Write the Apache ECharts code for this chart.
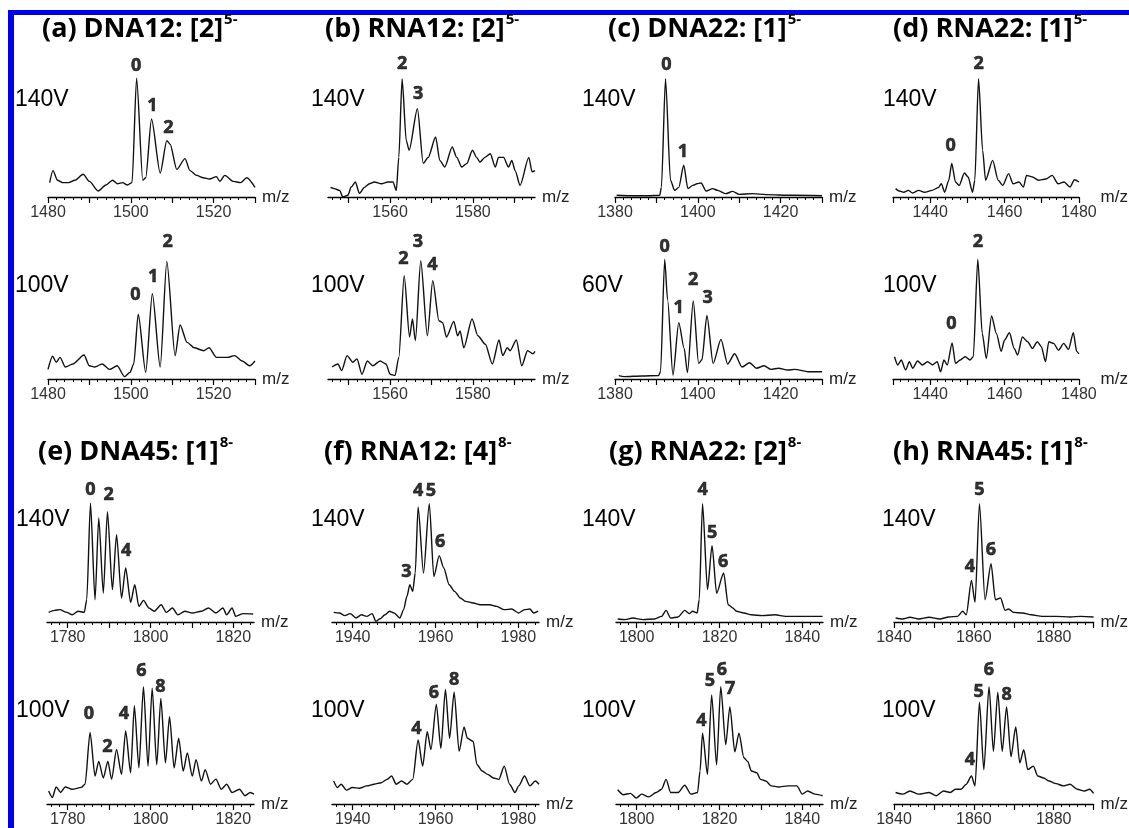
<!DOCTYPE html>
<html>
<head>
<meta charset="utf-8">
<title>CID spectra</title>
<script src="https://cdn.jsdelivr.net/npm/echarts/dist/echarts.min.js"></script>
<style>
  html, body { margin: 0; padding: 0; background: #fff; }
  #chart { width: 1129px; height: 828px; }
</style>
</head>
<body>
<div id="chart"></div>
<script>
// panel titles (main part, superscript charge)
const titles = [
  ['(a) DNA12: [2]', '5-'], ['(b) RNA12: [2]', '5-'], ['(c) DNA22: [1]', '5-'], ['(d) RNA22: [1]', '5-'],
  ['(e) DNA45: [1]', '8-'], ['(f) RNA12: [4]', '8-'], ['(g) RNA22: [2]', '8-'], ['(h) RNA45: [1]', '8-']
]
// cone voltage of upper / lower trace in each panel
const voltages = [
  ['140V', '100V'], ['140V', '100V'], ['140V', '60V'], ['140V', '100V'],
  ['140V', '100V'], ['140V', '100V'], ['140V', '100V'], ['140V', '100V']
]
// m/z range of each panel
const mzRanges = [
  [1480, 1530], [1545, 1595], [1380, 1430], [1430, 1480],
  [1775, 1825], [1935, 1985], [1795, 1845], [1840, 1890]
]
// labelled ticks
const tickLabels = [
  [1480, 1500, 1520], [1560, 1580], [1380, 1400, 1420], [1440, 1460, 1480],
  [1780, 1800, 1820], [1940, 1960, 1980], [1800, 1820, 1840], [1840, 1860, 1880]
]

// spectra: [m/z, relative intensity]
const a140 = [[1480.4,12],[1481.2,22],[1482.3,14],[1483.5,12],[1485,12],[1486.5,14],[1488.5,19],[1490,13],[1492.1,5],[1494,10],[1495.6,14],[1496.8,11],[1498,12],[1499.2,10],[1500.3,12],[1501.4,99],[1502.9,14],[1503.6,16],[1505,65],[1507.1,20],[1508.7,47],[1509.5,44],[1511.1,23],[1513.1,32],[1514.3,22],[1515.9,18],[1517.5,16],[1519,15],[1520.7,17],[1521.5,13],[1522.7,18],[1524.8,13],[1526.5,12],[1528,16],[1530,8]]
const a100 = [[1480,8],[1481.1,19],[1482,14],[1482.9,18],[1484.2,10],[1486,12.5],[1488.7,20],[1490,11],[1491.3,10],[1493.1,12.5],[1494.9,8],[1496.7,11],[1498.5,2],[1499.8,5.5],[1500.7,12.5],[1501.8,54],[1503.6,5.5],[1505.2,71],[1507.1,10],[1508.7,98],[1510.7,19.5],[1511.9,45],[1513.6,30.5],[1515.3,26],[1517.6,23.6],[1518.9,26],[1520.7,18],[1523.3,18],[1525.1,19.5],[1526.9,15],[1528.7,11],[1530,15]]
const b140 = [[1545.6,8],[1546.5,7],[1547.8,5.5],[1548.6,0],[1549.8,1.4],[1550.6,8.3],[1551.6,12.5],[1552.6,3],[1553.8,8],[1555,11],[1556.2,12.5],[1557.9,11],[1559.5,12.5],[1560.7,12.5],[1561.5,5.5],[1562.1,33],[1562.9,98.6],[1563.9,47],[1564.6,39],[1566.6,73.6],[1568,28],[1569.2,33],[1571,50],[1572,30.5],[1573.2,25],[1575,41.7],[1576.1,33],[1577.3,25],[1578.5,27.8],[1579.9,39],[1580.9,33],[1581.7,29],[1582.9,33],[1584.2,36],[1585.4,25],[1586.2,33],[1587.4,33],[1588.6,25],[1589.4,30.5],[1590.2,22],[1591.4,9.7],[1593.5,33],[1594.3,21],[1595,22]]
const b100 = [[1546,10],[1547.4,12.5],[1548.3,7],[1549.6,19.5],[1551,14],[1552,16.7],[1553.2,4],[1554.5,15],[1555.8,11],[1557.6,15],[1559,12.5],[1560,4],[1561.2,3],[1562.1,18],[1563.4,86],[1564.7,35],[1565.4,50],[1566.1,32],[1567.4,98.6],[1569,36],[1570.3,82],[1571.8,48.6],[1572.7,47],[1573.6,35],[1575.4,48],[1576.3,36],[1576.9,40],[1577.8,26],[1579.8,50],[1581.2,36],[1583,29],[1584.7,12.5],[1586.3,32.5],[1587.2,19.5],[1588.3,26],[1589,23.6],[1590.5,32.5],[1591.8,11],[1593.2,23.6],[1594.5,21],[1595,23]]
const c140 = [[1380.4,1.4],[1384,1],[1388,1],[1390.8,1.4],[1391.2,8],[1392.2,98.6],[1393.4,14],[1394.4,5.5],[1395.4,8],[1396.6,26.4],[1397.6,7],[1398.8,9.7],[1399.8,11],[1400.8,11.7],[1402,5],[1403.6,7],[1404.8,5.5],[1406.8,2.8],[1408.4,4.7],[1410,2.2],[1413.2,2.8],[1416.4,2],[1422.8,1.4],[1430,1]]
const c60 = [[1380.9,2.8],[1382.2,2],[1386.5,2.5],[1390.5,2.8],[1391,6],[1392,99.7],[1392.7,66],[1394,3.3],[1395.4,47],[1396.7,25.5],[1397.5,5.3],[1398.9,65],[1400.2,13],[1401,16],[1402.2,53],[1403.7,13],[1405.6,33],[1407.2,12.5],[1408.9,21],[1410.7,10],[1412.5,13.6],[1414.2,9],[1416,11],[1417.7,8],[1419.5,9],[1421.7,7.5],[1423.4,8],[1427,6],[1430,6]]
const d140 = [[1430.7,7],[1431.7,5],[1432.9,4],[1434.1,5.5],[1435.3,3.3],[1436.9,5.5],[1438.5,4],[1440.5,5.5],[1442.2,7.8],[1443,11],[1443.9,4],[1445,14],[1445.8,28],[1446.8,12.5],[1447.8,9.7],[1449.2,20],[1450.2,16.7],[1451.4,4],[1452,14],[1453,98.6],[1454.1,39],[1454.9,14],[1456.8,30.5],[1458.3,14],[1459.5,9.7],[1461.1,19.5],[1462.3,11],[1463.9,12.5],[1465.1,8.3],[1465.9,18],[1467.5,16.7],[1469.1,14],[1471.1,15],[1472.8,18],[1474.4,11],[1476,12.5],[1477.6,8.3],[1478.8,14.4],[1480,12.5]]
const d100 = [[1430.4,18.6],[1431.3,11.7],[1432.2,15.8],[1433.4,7.5],[1434.4,14.4],[1435.3,9],[1436.6,15],[1437.9,11.7],[1439.3,14.4],[1440.6,11.7],[1441.9,14.4],[1442.8,6],[1443.7,15.8],[1444.6,11.7],[1445.9,30],[1446.8,13],[1448.1,15.8],[1449.4,18.6],[1450.7,15.8],[1451.6,18.6],[1452.8,99.7],[1454,38],[1455.1,17],[1456.5,52.5],[1457.8,38],[1459.1,23],[1460,32.5],[1461.3,38.6],[1462.6,25.5],[1463.5,20],[1464.8,35],[1466.2,31],[1467.5,25.5],[1468.8,31],[1469.9,27],[1471,14.4],[1471.9,31],[1473.2,29.7],[1474.5,24],[1475.9,29.7],[1477.2,24.7],[1478.5,38.6],[1479.4,23],[1480,21]]
const e140 = [[1775.4,8],[1776.8,9.7],[1778.1,10.3],[1779.8,8],[1781.1,6],[1782.5,9],[1784,8],[1784.6,18.6],[1785.5,99],[1786.6,18.6],[1787.5,86.7],[1788.6,24],[1789.6,92],[1790.8,27],[1791.8,72.8],[1793,20],[1794,45],[1795.2,16.4],[1796.2,31],[1797.2,13],[1798.3,18],[1799.6,11.7],[1800.9,9],[1802.6,14.4],[1803.8,8],[1805.3,11.7],[1806.6,6],[1808.3,9],[1810.1,7.5],[1812.3,9],[1814,11.7],[1815.8,7.5],[1817.5,11.7],[1818.4,6],[1819.7,11.7],[1820.6,4.7],[1822.4,7],[1824.8,6.7]]
const e100 = [[1775.4,11],[1776.3,5.5],[1777.2,14.4],[1778.3,9.7],[1779.4,14.4],[1781.1,12.5],[1783.3,14],[1784.2,16.7],[1785.4,60.5],[1786.6,23.6],[1787.5,36],[1788.6,22],[1789.7,36],[1790.6,21],[1791.8,46],[1793,25],[1794,61.7],[1795.2,26.4],[1796.1,83],[1797.2,30.5],[1798.3,99],[1799.4,32],[1800.4,97.8],[1801.5,33],[1802.5,89],[1803.6,34.7],[1804.6,73.6],[1805.7,30.5],[1806.8,55.5],[1807.9,27.8],[1808.9,43],[1810.1,23.6],[1811,37.5],[1812.3,19.4],[1813.2,29],[1814.5,16.7],[1815.8,21],[1817.1,12.5],[1818.4,16.7],[1819.7,9.7],[1821.5,12.5],[1822.8,7],[1824.1,9.7],[1825,8.3]]
const f140 = [[1935.4,8],[1936.8,7.5],[1938.1,5.3],[1939.4,7],[1940.8,3.3],[1942.1,6],[1943.4,4.7],[1944.7,7],[1945.6,0.5],[1946.5,2.5],[1947.8,6],[1948.9,9],[1950,7.5],[1951.4,3.3],[1952.3,10.3],[1953.1,21.4],[1953.8,31],[1954.5,25.5],[1955.1,40.8],[1955.8,95.8],[1957.1,40.8],[1958.5,98.6],[1959.6,38],[1960.9,55.3],[1962,45],[1963.3,31],[1964.6,25.5],[1966,20],[1967.3,17.2],[1969.1,15.8],[1970.8,14.4],[1973.1,14.4],[1974.8,13],[1976.6,10.3],[1978.4,10.8],[1980.1,7.5],[1981.5,10.3],[1982.8,10.8],[1983.7,7.5],[1984.8,9]]
const f100 = [[1935.4,19.4],[1936.3,13.9],[1937.2,16.7],[1938.5,11.7],[1939.9,13.9],[1941.6,13.3],[1943.4,15.3],[1945.2,16.7],[1946.9,18],[1948.3,20.8],[1949.4,23.6],[1950.5,16.7],[1951.8,19.4],[1953.1,16.7],[1954.5,20.8],[1955.8,54],[1956.9,32],[1958,61],[1958.9,46],[1960.2,84],[1961.3,47],[1962.4,96.7],[1963.4,55.5],[1964.5,94.4],[1965.7,44.4],[1966.9,65],[1967.7,55.5],[1969.1,52.8],[1970,33.3],[1971.3,27.8],[1972.6,25],[1974,22],[1975.3,20.8],[1976.6,32],[1977.9,16.7],[1979.2,9.7],[1980.1,15.3],[1981.5,23.6],[1982.8,15.3],[1984.1,19.4],[1985,16.7]]
const g140 = [[1795.4,2.5],[1797.2,2],[1799,3.3],[1801.6,2],[1804.3,2.5],[1806,4.7],[1807.1,9.7],[1808.2,3.3],[1810,4.2],[1811.6,9.7],[1812.7,7],[1813.5,8.9],[1814.6,7.5],[1815.1,18.6],[1815.9,98.6],[1817.1,27],[1818.2,63.6],[1819.3,24],[1821,40.8],[1822.1,14.4],[1823.2,11.7],[1824.1,8.9],[1825.9,7.5],[1827.7,6],[1830.3,5.3],[1833.4,6],[1836,4.7],[1839.6,4.7],[1843.1,4.7],[1844.9,4.7]]
const g100 = [[1795.4,12],[1796.8,7.8],[1798.5,9],[1799.9,5],[1801.2,8.3],[1802.9,6],[1804.7,9.7],[1806,12.5],[1807.1,20.8],[1808.2,9.7],[1810,9.7],[1811.6,15.8],[1813.1,8.3],[1814.7,9.7],[1815.3,27.8],[1815.9,59.7],[1817.1,25],[1818.1,92],[1819.3,33],[1820.3,99],[1821.5,50],[1822.5,82],[1823.7,44],[1824.7,59.7],[1825.9,39],[1826.8,36],[1827.7,27.8],[1829,26.4],[1829.9,20.8],[1831.2,19.4],[1832.5,15.3],[1834.3,14.4],[1836.5,15.3],[1838.7,15.3],[1840,8.3],[1841.3,11],[1843.1,8.3],[1844.9,7]]
const h140 = [[1840.4,3.3],[1842.2,2.5],[1844,3.9],[1846.2,2.5],[1848.8,3.9],[1851.5,2.5],[1853.7,4.2],[1855.9,4.7],[1857.2,8.9],[1858.1,6],[1859.4,34.7],[1860.3,16.4],[1861.4,98.6],[1862.8,18.6],[1864.3,48.6],[1865.4,18.6],[1866.7,20],[1867.8,9.7],[1868.7,10.8],[1870,8],[1872.2,7.5],[1874.4,6],[1877.1,4.7],[1880.6,4.7],[1884.1,4.2],[1886.8,4.7],[1890,4.2]]
const h100 = [[1840.4,9.7],[1842.2,8.3],[1844,11],[1846.2,8.3],[1848.8,9.7],[1850.6,7],[1852.4,11],[1854.1,9.7],[1855.4,12.5],[1856.8,12.5],[1858.1,16.7],[1859.4,23.6],[1860.3,15.3],[1861.4,86],[1862.5,29],[1863.8,99],[1864.9,44.4],[1866,94.4],[1867.1,44.4],[1868.2,82],[1869.3,40],[1870.5,65],[1871.5,34.7],[1872.5,45.8],[1873.5,29],[1874.9,32],[1876,23.6],[1877.5,22],[1878.8,19.4],[1880.6,17.2],[1882.4,15.3],[1884.1,16.7],[1885.9,12.5],[1887.7,11],[1889,12.5],[1890,8.9]]

// peak annotations: [text, m/z, intensity at label centre]
const a140L = [['0',1501.3,109],['1',1505.2,76],['2',1509.1,58]]
const a100L = [['0',1501.1,70],['1',1505.4,85],['2',1508.9,114]]
const b140L = [['2',1562.9,111],['3',1566.8,86]]
const b100L = [['2',1563.2,100],['3',1566.7,114],['4',1570.2,95]]
const c140L = [['0',1392.4,110],['1',1396.4,38]]
const c60L = [['0',1392,110],['1',1395.4,59],['2',1398.9,83],['3',1402.4,68]]
const d140L = [['2',1453,111],['0',1445.5,43]]
const d100L = [['2',1452.8,114],['0',1445.7,46]]
const e140L = [['0',1785.5,110],['2',1789.9,106],['4',1794.1,59]]
const e100L = [['0',1785.1,76],['2',1789.6,48],['4',1793.6,76],['6',1797.8,112],['8',1802.4,99]]
const f140L = [['3',1953,42],['4',1955.8,109],['5',1958.9,109],['6',1961.1,67]]
const f100L = [['4',1955.4,63],['6',1959.6,94],['8',1964.5,105]]
const g140L = [['4',1815.9,110],['5',1818.2,74],['6',1820.9,50]]
const g100L = [['4',1815.6,70],['5',1817.7,104],['6',1820.6,113],['7',1822.6,97]]
const h140L = [['4',1859,46],['5',1861.4,110],['6',1864.3,60]]
const h100L = [['4',1859,37],['5',1861.2,95],['6',1863.8,113],['8',1868.2,92.5]]

const spectra = [[a140, a100], [b140, b100], [c140, c60], [d140, d100], [e140, e100], [f140, f100], [g140, g100], [h140, h100]]
const peakLabels = [[a140L, a100L], [b140L, b100L], [c140L, c60L], [d140L, d100L], [e140L, e100L], [f140L, f100L], [g140L, g100L], [h140L, h100L]]

// layout (pixels)
const colLeft = [[48, 328, 615, 893], [47, 332, 616, 894]]
const axisY = [197, 379, 622, 806]
const titleX = [[42, 325, 608, 893], [38, 324, 609, 893]]
const titleY = [29, 452]
const voltX = [[15, 311, 582, 883], [16, 311, 582, 882]]
const voltY = [100, 286, 520, 711]
const plotW = 207
const plotH = 156 // 130 intensity units
const YMAX = 130

function stepValues(min, max, step) {
  const out = []
  for (let v = Math.ceil(min / step) * step; v <= max + 1e-9; v += step) out.push(v)
  return out
}

const grid = []
const xAxis = []
const yAxis = []
const series = []
const graphic = [
  { type: 'rect', shape: { x: 8, y: 10, width: 1121, height: 5 }, style: { fill: '#0000f0' } },
  { type: 'rect', shape: { x: 8, y: 10, width: 6, height: 818 }, style: { fill: '#0000f0' } }
]

spectra.forEach((pair, p) => {
  const block = p < 4 ? 0 : 1
  const col = p % 4
  const [mzMin, mzMax] = mzRanges[p]

  graphic.push({
    type: 'text',
    x: titleX[block][col],
    y: titleY[block],
    style: {
      text: '{m|' + titles[p][0] + '}{s|' + titles[p][1] + '}',
      verticalAlign: 'middle',
      rich: {
        m: { fontFamily: 'Open Sans', fontWeight: 'bold', fontSize: 27, lineHeight: 34, fill: '#000' },
        s: { fontFamily: 'Open Sans', fontWeight: 'bold', fontSize: 15, lineHeight: 30, verticalAlign: 'top', fill: '#000', padding: [0, 0, 0, 1] }
      }
    }
  })

  pair.forEach((data, s) => {
    const g = p * 2 + s
    const row = block * 2 + s
    grid.push({ left: colLeft[block][col], top: axisY[row] - plotH, width: plotW, height: plotH })
    yAxis.push({ type: 'value', gridIndex: g, min: 0, max: YMAX, show: false })
    xAxis.push({
      type: 'value', gridIndex: g, min: mzMin, max: mzMax, position: 'bottom',
      name: 'm/z', nameLocation: 'end', nameGap: 7,
      nameTextStyle: { fontFamily: 'Liberation Sans', fontSize: 17, color: '#222' },
      axisLine: { show: true, onZero: false, lineStyle: { color: '#000', width: 1.3 } },
      axisTick: { show: true, customValues: stepValues(mzMin, mzMax, 10), length: 6, lineStyle: { color: '#000', width: 1.2 } },
      axisLabel: {
        show: true, customValues: tickLabels[p], margin: 8, formatter: v => String(v),
        fontFamily: 'Liberation Sans', fontSize: 16, color: '#333'
      },
      splitLine: { show: false }
    })
    // minor ticks every 2 units
    xAxis.push({
      type: 'value', gridIndex: g, min: mzMin, max: mzMax, position: 'bottom',
      axisLine: { show: false, onZero: false },
      axisTick: { show: true, customValues: stepValues(mzMin, mzMax, 2), length: 3, lineStyle: { color: '#000', width: 1 } },
      axisLabel: { show: false },
      splitLine: { show: false }
    })
    series.push({
      type: 'line',
      xAxisIndex: g * 2,
      yAxisIndex: g,
      data: data,
      showSymbol: false,
      smooth: 0.25,
      smoothMonotone: 'x',
      lineStyle: { color: '#111', width: 1.4 },
      silent: true
    })
    series.push({
      type: 'scatter',
      xAxisIndex: g * 2,
      yAxisIndex: g,
      clip: false,
      symbolSize: 0,
      itemStyle: { color: '#000' },
      data: peakLabels[p][s].map(d => ({ name: d[0], value: [d[1], d[2]] })),
      label: {
        show: true, position: 'inside', formatter: '{b}',
        fontFamily: 'Open Sans', fontWeight: 'bold', fontSize: 18, color: '#000',
        textBorderColor: '#000', textBorderWidth: 0.6
      },
      silent: true
    })
    graphic.push({
      type: 'text',
      x: voltX[block][col],
      y: voltY[row],
      style: { text: voltages[p][s], fontFamily: 'Liberation Sans', fontSize: 23, fill: '#000', verticalAlign: 'middle' }
    })
  })
})

const chart = echarts.init(document.getElementById('chart'))
chart.setOption({
  animation: false,
  backgroundColor: '#fff',
  grid: grid,
  xAxis: xAxis,
  yAxis: yAxis,
  series: series,
  graphic: graphic
})
window.addEventListener('resize', () => chart.resize())
</script>
</body>
</html>
